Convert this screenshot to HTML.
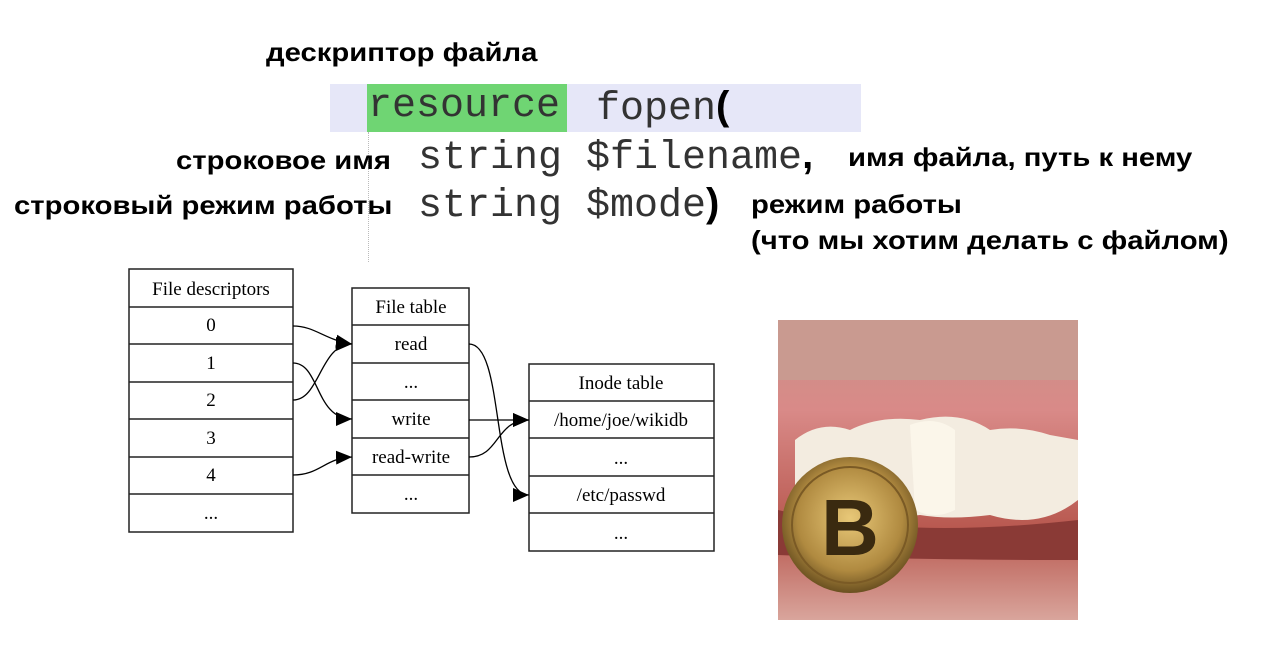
<!DOCTYPE html>
<html><head><meta charset="utf-8"><style>
body{margin:0;width:1278px;height:662px;background:#fff;position:relative;overflow:hidden;font-family:"Liberation Sans",sans-serif}
.b{position:absolute;font-weight:bold;font-size:26px;color:#000;white-space:nowrap;transform:scaleX(1.125);transform-origin:0 0}
.m{position:absolute;font-family:"Liberation Mono",monospace;font-size:40px;color:#333;white-space:nowrap}
</style></head><body>
<div class="b" style="left:266px;top:37px">дескриптор файла</div>
<div style="position:absolute;left:330px;top:84px;width:531px;height:48px;background:#e6e7f8"></div>
<div style="position:absolute;left:367px;top:84px;width:200px;height:48px;background:#6fd573"></div>
<div style="position:absolute;left:368px;top:132px;height:130px;border-left:1px dotted #bbb"></div>
<div class="m" style="left:368px;top:84px">resource</div>
<div class="m" style="left:596px;top:84px">fopen<b style="color:#000;font-family:'Liberation Sans'">(</b></div>
<div class="m" style="left:418px;top:133px">string $filename<b style="color:#000;font-family:'Liberation Sans'">,</b></div>
<div class="m" style="left:418px;top:181px">string $mode<b style="color:#000;font-family:'Liberation Sans'">)</b></div>
<div class="b" style="left:176px;top:145px">строковое имя</div>
<div class="b" style="left:14px;top:190px">строковый режим работы</div>
<div class="b" style="left:848px;top:142px">имя файла, путь к нему</div>
<div class="b" style="left:751px;top:189px">режим работы</div>
<div class="b" style="left:751px;top:225px">(что мы хотим делать с файлом)</div>

<svg style="position:absolute;left:0;top:0" width="1278" height="662">
<defs>
<marker id="A" markerWidth="16" markerHeight="14" refX="16" refY="7" orient="auto" markerUnits="userSpaceOnUse"><path d="M0,0L16,7L0,14z" fill="#000"/></marker>
<radialGradient id="coin" cx="50%" cy="45%" r="55%"><stop offset="0" stop-color="#e8c878"/><stop offset=".7" stop-color="#b08a40"/><stop offset="1" stop-color="#6a5020"/></radialGradient>
<linearGradient id="gum" x1="0" y1="0" x2="0" y2="1"><stop offset="0" stop-color="#c9928a"/><stop offset=".3" stop-color="#d98a88"/><stop offset=".7" stop-color="#b8584f"/><stop offset="1" stop-color="#d9a59c"/></linearGradient></defs>
<g fill="#000" stroke="#222" stroke-width="1.5">
<rect x="129" y="269" width="164" height="263" fill="none"/>
<line x1="129" y1="307" x2="293" y2="307"/><line x1="129" y1="344" x2="293" y2="344"/><line x1="129" y1="382" x2="293" y2="382"/><line x1="129" y1="419" x2="293" y2="419"/><line x1="129" y1="457" x2="293" y2="457"/><line x1="129" y1="494" x2="293" y2="494"/>
<rect x="352" y="288" width="117" height="225" fill="none"/>
<line x1="352" y1="325" x2="469" y2="325"/><line x1="352" y1="363" x2="469" y2="363"/><line x1="352" y1="400" x2="469" y2="400"/><line x1="352" y1="438" x2="469" y2="438"/><line x1="352" y1="475" x2="469" y2="475"/>
<rect x="529" y="364" width="185" height="187" fill="none"/>
<line x1="529" y1="401" x2="714" y2="401"/><line x1="529" y1="438" x2="714" y2="438"/><line x1="529" y1="476" x2="714" y2="476"/><line x1="529" y1="513" x2="714" y2="513"/>
</g>
<g font-family="Liberation Serif,serif" font-size="19" text-anchor="middle" fill="#000">
<text x="211" y="295">File descriptors</text><text x="211" y="331">0</text><text x="211" y="369">1</text><text x="211" y="406">2</text><text x="211" y="444">3</text><text x="211" y="481">4</text><text x="211" y="519">...</text>
<text x="411" y="313">File table</text><text x="411" y="350">read</text><text x="411" y="388">...</text><text x="411" y="425">write</text><text x="411" y="463">read-write</text><text x="411" y="500">...</text>
<text x="621" y="389">Inode table</text><text x="621" y="426">/home/joe/wikidb</text><text x="621" y="464">...</text><text x="621" y="501">/etc/passwd</text><text x="621" y="539">...</text>
</g>
<g fill="none" stroke="#000" stroke-width="1.3">
<path d="M293,326C315,326 325,340 352,344" marker-end="url(#A)"/>
<path d="M293,400C320,400 320,344 352,344" marker-end="url(#A)"/>
<path d="M293,363C320,363 315,419 352,419" marker-end="url(#A)"/>
<path d="M293,475C320,475 325,458 352,457" marker-end="url(#A)"/>
<path d="M469,420L529,420" marker-end="url(#A)"/>
<path d="M469,457C500,457 495,420 529,420" marker-end="url(#A)"/>
<path d="M469,344C505,344 490,495 529,495" marker-end="url(#A)"/>
</g>
<g>
<rect x="778" y="320" width="300" height="300" fill="url(#gum)"/>
<rect x="778" y="320" width="300" height="60" fill="#c99a90"/>
<path d="M795,440Q820,420 850,430Q880,415 920,420Q960,410 990,430Q1020,425 1050,435L1078,440L1078,500Q1040,530 990,515Q950,520 920,515Q880,520 850,510Q820,510 795,505z" fill="#f3ece0"/>
<path d="M910,425Q935,415 955,430L955,510Q935,520 915,510z" fill="#fbf6ea"/>
<path d="M778,510Q900,540 1078,520L1078,560Q900,560 778,555z" fill="#8a3a36"/>
<circle cx="850" cy="525" r="68" fill="url(#coin)"/>
<circle cx="850" cy="525" r="58" fill="none" stroke="#7a5a25" stroke-width="2"/>
<text x="850" y="555" font-family="Liberation Sans,sans-serif" font-weight="bold" font-size="80" text-anchor="middle" fill="#3a2a10">B</text>
</g>
</svg>
</body></html>
